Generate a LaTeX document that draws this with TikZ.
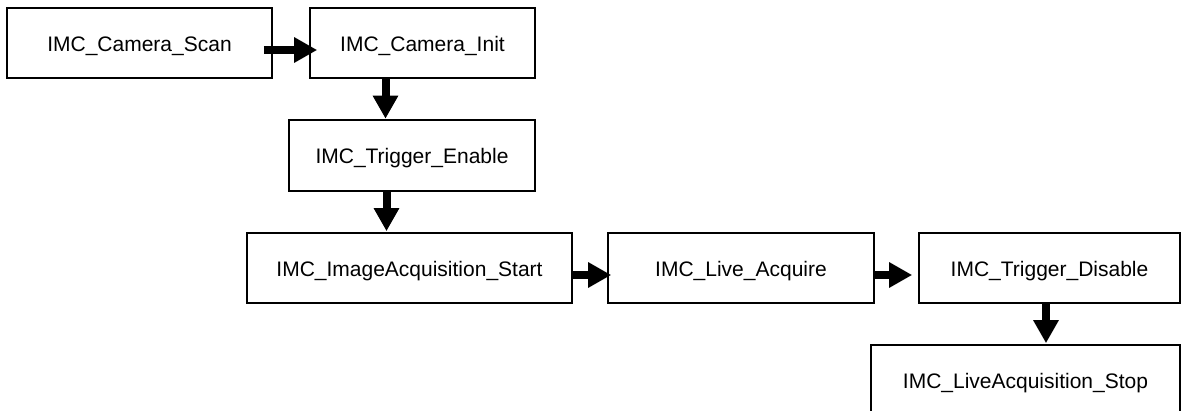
\documentclass[tikz,border=0pt]{standalone}
\usepackage{fontspec}
\setmainfont{Liberation Sans}
\usetikzlibrary{arrows.meta,calc}
\begin{document}
\begin{tikzpicture}[x=1pt,y=-1pt,
  box/.style={draw=black, line width=1.6pt, inner sep=0pt, text height=21pt, text depth=4pt,
    font=\fontsize{21}{25}\selectfont},
  flow/.style={line width=8pt, -{Triangle[width=24pt,length=23pt]}}]
\useasboundingbox (0,0) rectangle (1187,411);
\clip (0,0) rectangle (1187,411);
\node[box, minimum width=265pt, minimum height=70pt] (b1) at (139.5,43) {IMC\_Camera\_Scan};
\node[box, minimum width=225pt, minimum height=70pt] (b2) at (422.5,43) {IMC\_Camera\_Init};
\node[box, minimum width=246pt, minimum height=71pt] (b3) at (412,155.5) {IMC\_Trigger\_Enable};
\node[box, minimum width=325pt, minimum height=70pt] (b4) at (409.5,268) {IMC\_ImageAcquisition\_Start};
\node[box, minimum width=266pt, minimum height=70pt] (b5) at (741,268) {IMC\_Live\_Acquire};
\node[box, minimum width=261pt, minimum height=70pt] (b6) at (1049.5,268) {IMC\_Trigger\_Disable};
\node[box, minimum width=309pt, minimum height=70pt] (b7) at (1025.5,380) {IMC\_LiveAcquisition\_Stop};
\draw[flow] ($(b1.east)+(-9,7)$) -- ($(b2.west)+(8,7)$);
\draw[flow] ($(b2.south)+(-37,0)$) -- ($(b3.north)+(-26.5,-0.5)$);
\draw[flow] ($(b3.south)+(-25.5,0)$) -- ($(b4.north)+(-23,-1)$);
\draw[flow] ($(b4.east)+(-1,7)$) -- ($(b5.west)+(4,7)$);
\draw[flow] ($(b5.east)+(-2,7)$) -- ($(b6.west)+(-6,7)$);
\draw[flow] ($(b6.south)+(-3.5,0)$) -- ($(b7.north)+(20.5,-1)$);
\end{tikzpicture}
\end{document}
